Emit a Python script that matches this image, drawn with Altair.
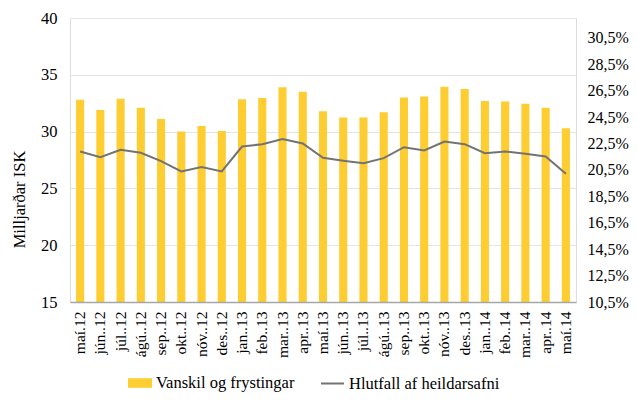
import altair as alt
import pandas as pd

months = ["maí.12", "jún..12", "júl..12", "ágú..12", "sep..12", "okt..12", "nóv..12", "des..12",
          "jan..13", "feb..13", "mar..13", "apr..13", "maí.13", "jún..13", "júl..13", "ágú..13",
          "sep..13", "okt..13", "nóv..13", "des..13", "jan..14", "feb..14", "mar..14", "apr..14", "maí.14"]
vanskil = [32.8, 31.9, 32.9, 32.1, 31.1, 30.0, 30.5, 30.05, 32.85, 32.95, 33.9, 33.5, 31.8,
           31.25, 31.25, 31.7, 33.0, 33.1, 33.95, 33.75, 32.7, 32.65, 32.45, 32.1, 30.3]
hlutfall = [21.9, 21.47, 22.02, 21.8, 21.16, 20.39, 20.71, 20.39, 22.27, 22.45, 22.83, 22.5, 21.42,
            21.2, 21.01, 21.39, 22.22, 21.97, 22.65, 22.45, 21.77, 21.9, 21.72, 21.52, 20.21]

bar_name = "Vanskil og frystingar"
line_name = "Hlutfall af heildarsafni"

df = pd.DataFrame({"month": months, "vanskil": vanskil, "hlutfall": hlutfall,
                   "bar_series": bar_name, "line_series": line_name})

FONT = "Liberation Serif, Times New Roman, serif"
FS = 16.5
YELLOW = "#FDCD32"
GRAY = "#737373"

x = alt.X("month:N", sort=None, title=None,
          scale=alt.Scale(paddingInner=0.6, paddingOuter=0.3),
          axis=alt.Axis(labelAngle=270, labelFontSize=15.5, labelColor="#000000", labelPadding=9,
                        ticks=False, domainColor="#A6A6A6", domainWidth=1.3, grid=False,
                        labelFont=FONT, zindex=1))

bars = alt.Chart(df).mark_bar(color=YELLOW, clip=True).encode(
    x=x,
    y=alt.Y("vanskil:Q", title="Milljarðar ISK",
            scale=alt.Scale(domain=[15, 40], zero=False, nice=False),
            axis=alt.Axis(values=[15, 20, 25, 30, 35, 40], grid=True, gridColor="#E4E4E4",
                          ticks=False, domain=False, labelPadding=13, labelFontSize=FS,
                          titleFontSize=FS, titleFontWeight="normal", titleColor="#000000",
                          labelColor="#000000", labelFont=FONT, titleFont=FONT,
                          titleX=-51, titleY=181, titleAngle=270, titleAlign="center",
                          titleBaseline="middle")),
    y2=alt.datum(15),
    fill=alt.Fill("bar_series:N", title=None,
                  scale=alt.Scale(domain=[bar_name], range=[YELLOW]),
                  legend=alt.Legend(orient="none", legendX=58, legendY=353,
                                    symbolType="M-1,-0.4H1V0.4H-1Z", symbolSize=576,
                                    symbolStrokeWidth=0, labelFontSize=FS, labelFont=FONT,
                                    labelColor="#000000", padding=0)),
)

line = alt.Chart(df).mark_line(strokeWidth=2).encode(
    x=x,
    y=alt.Y("hlutfall:Q", title=None,
            scale=alt.Scale(domain=[10.5, 32.0], zero=False, nice=False),
            axis=alt.Axis(orient="right", values=[10.5 + 2 * i for i in range(11)], grid=False,
                          ticks=False, domain=False, labelPadding=11, labelFontSize=16,
                          labelColor="#000000", labelFont=FONT,
                          labelExpr="replace(format(datum.value, '.1f'), '.', ',') + '%'")),
    stroke=alt.Stroke("line_series:N", title=None,
                      scale=alt.Scale(domain=[line_name], range=[GRAY]),
                      legend=alt.Legend(orient="none", legendX=250, legendY=353,
                                        symbolType="stroke", symbolSize=529,
                                        symbolStrokeWidth=2, labelFontSize=FS, labelFont=FONT,
                                        labelColor="#000000", padding=0)),
)

chart = alt.layer(bars, line).resolve_scale(y="independent", fill="independent",
                                            stroke="independent").properties(
    width=506, height=284,
    autosize=alt.AutoSizeParams(type="none"),
    padding={"left": 62, "top": 10, "right": 53, "bottom": 92},
).configure_view(stroke=None).configure(font=FONT)

chart.save("out.html", embed_options={"renderer": "svg", "actions": False})
